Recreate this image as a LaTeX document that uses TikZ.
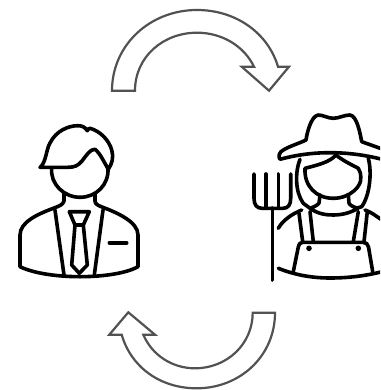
\documentclass[tikz,border=0pt]{standalone}
\begin{document}
\begin{tikzpicture}[x=1pt,y=-1pt,
  cyc/.style={draw=black!68,line width=2.2pt,fill=white,line join=miter},
  icon/.style={draw=black,line width=3.6pt,line cap=round,line join=round}]
\useasboundingbox (0,0) rectangle (380,390);
\clip (0,0) rectangle (380,390);
% cycle arrows
\draw[cyc] (112,90.7) .. controls (112,45) and (150,10) .. (197,10)
  .. controls (236,10) and (268,33) .. (278,66.7) -- (289,66.7) -- (269,90.7) -- (241.7,66.7) -- (254,66.7)
  .. controls (244,46) and (222,32.7) .. (197,32.7)
  .. controls (163,32.7) and (135,57) .. (135,90.7) -- cycle;
\draw[cyc] (275,312.7) .. controls (275,356) and (240,388.3) .. (196.7,388.3)
  .. controls (160,388.3) and (131,367) .. (121.7,334.7) -- (109.3,334.7) -- (128.3,312.3) -- (155,334.7) -- (143.3,334.7)
  .. controls (152,355) and (172,368.3) .. (195,368.3)
  .. controls (227,368.3) and (252.7,344) .. (252.7,312.7) -- cycle;
% businessman
\draw[icon] (40,167.3) .. controls (46,163) and (46,150) .. (50,143)
  .. controls (56,131) and (68,125.7) .. (78,125.7)
  .. controls (82,125.7) and (85,127) .. (87.3,130.7)
  .. controls (88,129) and (89,128.3) .. (90,128.3)
  .. controls (100,131) and (109,140) .. (111.7,150)
  .. controls (114,157) and (112,164) .. (108.3,169.3)
  .. controls (104,162) and (100,153) .. (95,149.3)
  .. controls (90,149) and (86,156) .. (82,161)
  .. controls (78,165.5) and (75,167.3) .. (68,167.3) -- cycle;
\draw[icon] (51.7,168) .. controls (50,184) and (64,197.3) .. (80,197.3)
  .. controls (96,197.3) and (109,185) .. (108,168);
\draw[icon] (64,193.3) -- (64,201) .. controls (63,205) and (59,206) .. (53.3,208.3)
  .. controls (38,214) and (20,222) .. (20,235) -- (20,266.7)
  .. controls (35,274) and (60,276.7) .. (80,276.7)
  .. controls (100,276.7) and (125,274) .. (138,266.7) -- (138,235)
  .. controls (138,222) and (118,213) .. (102,207) .. controls (98,205.5) and (95,204) .. (95,201) -- (95,193.3);
\draw[icon] (55,210) -- (64,275);
\draw[icon] (103,210) -- (94.3,275);
\draw[icon] (69.3,211.7) -- (89.3,211.7) -- (83.3,225) -- (75,225) -- cycle;
\draw[icon] (75,225) -- (71.7,265) -- (79.3,273.3) -- (87.3,265) -- (83.3,225);
\draw[icon] (109.3,242.7) -- (126.7,242.7);
% farmer: hat
\draw[icon] (318.3,115) .. controls (323,115) and (328,118.3) .. (333.3,118.3)
  .. controls (339,118.3) and (344,115) .. (350,115)
  .. controls (357,116) and (360,133) .. (361.7,141.7)
  .. controls (368,144) and (374,146) .. (382,149)
  (318.3,115) .. controls (311,116) and (307,133) .. (306,140)
  .. controls (300,143) and (290,146) .. (283.3,150)
  .. controls (279,152) and (278,157) .. (280,159.3)
  .. controls (296,155) and (312,152.7) .. (330,152.7)
  .. controls (348,152.7) and (365,155) .. (382,159.3);
% hair
\draw[icon] (300,159.3) .. controls (295,172) and (295,192) .. (303.3,203.3) -- (310,208.3);
\draw[icon] (368.3,158.3) .. controls (372,172) and (370,195) .. (361.7,206.7) -- (356,208.3);
% face
\draw[icon] (336,155) .. controls (330,162) and (318,165) .. (305,168.3)
  .. controls (304,186) and (316,198.3) .. (333.3,198.3)
  .. controls (351,198.3) and (362,185) .. (360.7,178) .. controls (361,174) and (360,171) .. (358.3,168.3)
  .. controls (350,164) and (342,160) .. (336,155);
% neck and shoulders
\draw[icon] (320,195) -- (319,203) .. controls (318,205) and (314,207) .. (310,208.3)
  .. controls (318,214) and (326,215) .. (333,215)
  .. controls (342,215) and (350,213) .. (358,208.3) .. controls (353,207) and (349.5,205) .. (349,203) -- (348.3,195);
\draw[icon] (278.3,228.3) .. controls (283,220) and (292,214) .. (301.7,210);
\draw[icon] (365,210) .. controls (371,212) and (376,216) .. (382,220);
\draw[icon] (299,213.3) -- (302.7,241.7) (310,211.7) -- (313.3,241.7);
\draw[icon] (358.3,211.7) -- (353.3,241.7) (367.3,211.7) -- (364,241.7);
\draw[icon] (293.3,271.7) -- (298.3,247) .. controls (298.6,244) and (300,242.3) .. (303,242.3)
  -- (363,242.3) .. controls (366,242.3) and (368,244) .. (368.5,247) -- (372.7,271.7);
\fill (309,248.3) circle (2.8);
\fill (358.3,248.3) circle (2.8);
\draw[icon] (278.3,268.3) .. controls (295,275) and (312,278) .. (330,278)
  .. controls (348,278) and (365,276) .. (382,271.7);
% pitchfork
\draw[icon] (272.3,208) -- (272.3,280);
\draw[icon] (254,174) -- (254,198.3) .. controls (254,205) and (257,208.3) .. (262,208.3)
  -- (283,208.3) .. controls (288,208.3) and (290.7,205) .. (290.7,198.3) -- (290.7,174);
\draw[icon] (266,174) -- (266,208) (278.3,174) -- (278.3,208);
\end{tikzpicture}
\end{document}
